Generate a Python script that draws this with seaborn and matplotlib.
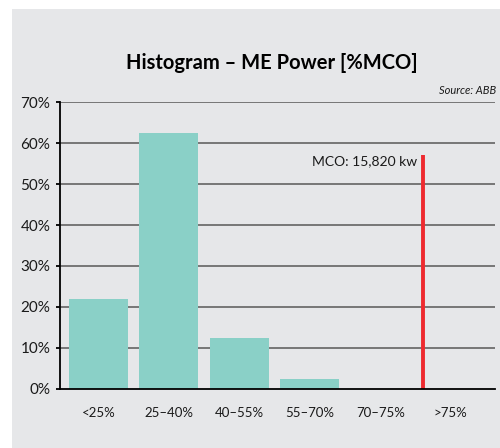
import matplotlib
matplotlib.use("Agg")
import matplotlib.pyplot as plt
from matplotlib.patches import Rectangle
import seaborn as sns
import pandas as pd

# Share of operating time in each main-engine load band
categories = ["<25%", "25–40%", "40–55%", "55–70%", "70–75%", ">75%"]
shares = [22.0, 62.5, 12.5, 2.4, 0.0, 0.0]
y_ticks = [0, 10, 20, 30, 40, 50, 60, 70]
y_tick_labels = ["0%", "10%", "20%", "30%", "40%", "50%", "60%", "70%"]

# Maximum continuous output marker
mco_label = "MCO: 15,820 kw"
mco_position = 4.61
mco_height = 57.0

title = "Histogram – ME Power [%MCO]"
source = "Source: ABB"

BG = "#e6e7e9"
BAR = "#8ad0c7"
RED = "#ee2a2f"
GRID = "#6e6e6e"

sns.set_theme(style="white")
plt.rcParams["font.family"] = ["Lato", "DejaVu Sans"]

fig = plt.figure(figsize=(5.0, 4.48), dpi=100, facecolor="white")
fig.patches.append(Rectangle((12 / 500, 0), 1 - 12 / 500, 1 - 9 / 448,
                             transform=fig.transFigure, facecolor=BG,
                             edgecolor="none", zorder=-10))

ax = fig.add_axes([60 / 500, (448 - 388.7) / 448, 435 / 500, (388.7 - 102.3) / 448])
ax.set_facecolor(BG)

df = pd.DataFrame({"band": categories, "share": shares})
sns.barplot(data=df, x="band", y="share", order=categories, color=BAR,
            saturation=1, width=0.84, linewidth=0, ax=ax, zorder=3)

ax.set_xlim(-0.546, 5.63)
ax.set_ylim(0, 70)
ax.set_yticks(y_ticks)
ax.set_yticklabels(y_tick_labels)
for y in y_ticks[1:]:
    ax.axhline(y, color=GRID, lw=1.3, zorder=1)

ax.plot([mco_position, mco_position], [0, mco_height], color=RED, lw=2.8,
        solid_capstyle="butt", zorder=4)
ax.text(mco_position - 0.09, mco_height, mco_label, ha="right", va="top",
        fontsize=10, color="#1a1a1a")

ax.set_xlabel("")
ax.set_ylabel("")
for s in ["top", "right"]:
    ax.spines[s].set_visible(False)
for s in ["left", "bottom"]:
    ax.spines[s].set_color("black")
    ax.spines[s].set_linewidth(1.3)
    ax.spines[s].set_zorder(5)

ax.tick_params(axis="y", left=True, length=3, width=1.3, color="black",
               labelsize=11, pad=4, labelcolor="#1a1a1a")
ax.tick_params(axis="x", bottom=False, labelsize=9.5, pad=7, labelcolor="#1a1a1a")

fig.text(272 / 500, 1 - 63 / 448, title, ha="center", va="center",
         fontsize=14.5, fontweight="bold", color="black")
fig.text(496 / 500, 1 - 91 / 448, source, ha="right", va="center",
         fontsize=8, style="italic", color="#1a1a1a")

fig.savefig("out.png", dpi=100, facecolor="white")
